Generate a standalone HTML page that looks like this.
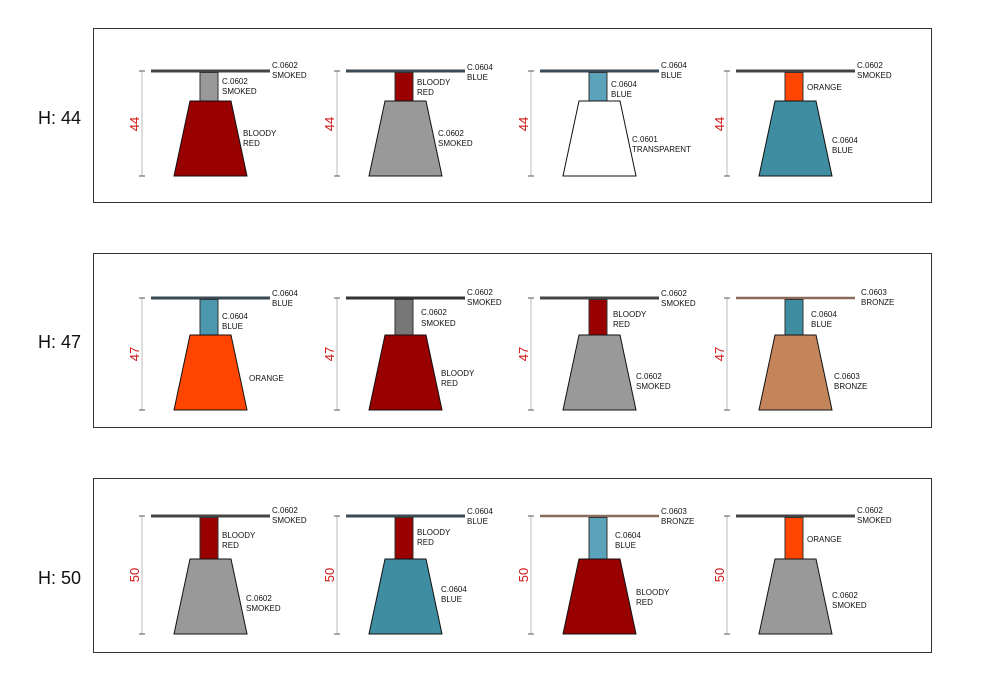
<!DOCTYPE html>
<html><head><meta charset="utf-8"><style>
html,body{margin:0;padding:0;background:#fff;width:1000px;height:700px;overflow:hidden}
svg{display:block}
text{font-family:"Liberation Sans",sans-serif;font-size:8px;fill:#111}
.d{font-size:13px;fill:#d01818;text-anchor:middle}
.h{font-size:18px;fill:#111}
</style></head><body>
<svg width="1000" height="700" viewBox="0 0 1000 700" xmlns="http://www.w3.org/2000/svg">
<rect x="93.5" y="28.5" width="838" height="174" fill="none" stroke="#333"/>
<rect x="93.5" y="253.5" width="838" height="174" fill="none" stroke="#333"/>
<rect x="93.5" y="478.5" width="838" height="174" fill="none" stroke="#333"/>
<text class="h" x="38" y="124">H: 44</text>
<text class="h" x="38" y="348">H: 47</text>
<text class="h" x="38" y="584">H: 50</text>

<!-- ROW 1 (h=30, H=105) -->
<g transform="translate(0,71)">
<line x1="142" y1="0" x2="142" y2="105" stroke="#bbb"/><line x1="139" y1="0" x2="145" y2="0" stroke="#555"/><line x1="139" y1="105" x2="145" y2="105" stroke="#555"/>
<line x1="151" y1="0" x2="270" y2="0" stroke="#444" stroke-width="3"/>
<rect x="200" y="1.5" width="18" height="28.5" fill="#999" stroke="#333"/>
<polygon points="190,30 231,30 247,105 174,105" fill="#990000" stroke="#111"/>
<text class="d" transform="translate(139,53) rotate(-90)">44</text>
<text x="272" y="-3">C.0602</text><text x="272" y="7">SMOKED</text>
<text x="222" y="13">C.0602</text><text x="222" y="23">SMOKED</text>
<text x="243" y="65">BLOODY</text><text x="243" y="75">RED</text>
</g>
<g transform="translate(195,71)">
<line x1="142" y1="0" x2="142" y2="105" stroke="#bbb"/><line x1="139" y1="0" x2="145" y2="0" stroke="#555"/><line x1="139" y1="105" x2="145" y2="105" stroke="#555"/>
<line x1="151" y1="0" x2="270" y2="0" stroke="#3a4a55" stroke-width="3"/>
<rect x="200" y="1.5" width="18" height="28.5" fill="#990000" stroke="#333"/>
<polygon points="190,30 231,30 247,105 174,105" fill="#999" stroke="#111"/>
<text class="d" transform="translate(139,53) rotate(-90)">44</text>
<text x="272" y="-1">C.0604</text><text x="272" y="9">BLUE</text>
<text x="222" y="14">BLOODY</text><text x="222" y="24">RED</text>
<text x="243" y="65">C.0602</text><text x="243" y="75">SMOKED</text>
</g>
<g transform="translate(389,71)">
<line x1="142" y1="0" x2="142" y2="105" stroke="#bbb"/><line x1="139" y1="0" x2="145" y2="0" stroke="#555"/><line x1="139" y1="105" x2="145" y2="105" stroke="#555"/>
<line x1="151" y1="0" x2="270" y2="0" stroke="#3a4a55" stroke-width="3"/>
<rect x="200" y="1.5" width="18" height="28.5" fill="#5aa3bb" stroke="#333"/>
<polygon points="190,30 231,30 247,105 174,105" fill="#fff" stroke="#111"/>
<text class="d" transform="translate(139,53) rotate(-90)">44</text>
<text x="272" y="-3">C.0604</text><text x="272" y="7">BLUE</text>
<text x="222" y="16">C.0604</text><text x="222" y="26">BLUE</text>
<text x="243" y="71">C.0601</text><text x="243" y="81">TRANSPARENT</text>
</g>
<g transform="translate(585,71)">
<line x1="142" y1="0" x2="142" y2="105" stroke="#bbb"/><line x1="139" y1="0" x2="145" y2="0" stroke="#555"/><line x1="139" y1="105" x2="145" y2="105" stroke="#555"/>
<line x1="151" y1="0" x2="270" y2="0" stroke="#444" stroke-width="3"/>
<rect x="200" y="1.5" width="18" height="28.5" fill="#ff4500" stroke="#333"/>
<polygon points="190,30 231,30 247,105 174,105" fill="#3f8da1" stroke="#111"/>
<text class="d" transform="translate(139,53) rotate(-90)">44</text>
<text x="272" y="-3">C.0602</text><text x="272" y="7">SMOKED</text>
<text x="222" y="19">ORANGE</text>
<text x="247" y="72">C.0604</text><text x="247" y="82">BLUE</text>
</g>

<!-- ROW 2 (h=37, H=112) -->
<g transform="translate(0,298)">
<line x1="142" y1="0" x2="142" y2="112" stroke="#bbb"/><line x1="139" y1="0" x2="145" y2="0" stroke="#555"/><line x1="139" y1="112" x2="145" y2="112" stroke="#555"/>
<line x1="151" y1="0" x2="270" y2="0" stroke="#3a4a55" stroke-width="3"/>
<rect x="200" y="1.5" width="18" height="35.5" fill="#4a97ae" stroke="#333"/>
<polygon points="190,37 231,37 247,112 174,112" fill="#ff4500" stroke="#111"/>
<text class="d" transform="translate(139,56) rotate(-90)">47</text>
<text x="272" y="-2">C.0604</text><text x="272" y="8">BLUE</text>
<text x="222" y="21">C.0604</text><text x="222" y="31">BLUE</text>
<text x="249" y="83">ORANGE</text>
</g>
<g transform="translate(195,298)">
<line x1="142" y1="0" x2="142" y2="112" stroke="#bbb"/><line x1="139" y1="0" x2="145" y2="0" stroke="#555"/><line x1="139" y1="112" x2="145" y2="112" stroke="#555"/>
<line x1="151" y1="0" x2="270" y2="0" stroke="#333" stroke-width="3"/>
<rect x="200" y="1.5" width="18" height="35.5" fill="#777" stroke="#333"/>
<polygon points="190,37 231,37 247,112 174,112" fill="#990000" stroke="#111"/>
<text class="d" transform="translate(139,56) rotate(-90)">47</text>
<text x="272" y="-3">C.0602</text><text x="272" y="7">SMOKED</text>
<text x="226" y="17">C.0602</text><text x="226" y="28">SMOKED</text>
<text x="246" y="78">BLOODY</text><text x="246" y="88">RED</text>
</g>
<g transform="translate(389,298)">
<line x1="142" y1="0" x2="142" y2="112" stroke="#bbb"/><line x1="139" y1="0" x2="145" y2="0" stroke="#555"/><line x1="139" y1="112" x2="145" y2="112" stroke="#555"/>
<line x1="151" y1="0" x2="270" y2="0" stroke="#444" stroke-width="3"/>
<rect x="200" y="1.5" width="18" height="35.5" fill="#990000" stroke="#333"/>
<polygon points="190,37 231,37 247,112 174,112" fill="#999" stroke="#111"/>
<text class="d" transform="translate(139,56) rotate(-90)">47</text>
<text x="272" y="-2">C.0602</text><text x="272" y="8">SMOKED</text>
<text x="224" y="19">BLOODY</text><text x="224" y="29">RED</text>
<text x="247" y="81">C.0602</text><text x="247" y="91">SMOKED</text>
</g>
<g transform="translate(585,298)">
<line x1="142" y1="0" x2="142" y2="112" stroke="#bbb"/><line x1="139" y1="0" x2="145" y2="0" stroke="#555"/><line x1="139" y1="112" x2="145" y2="112" stroke="#555"/>
<line x1="151" y1="0" x2="270" y2="0" stroke="#8a6a5a" stroke-width="2.5"/>
<rect x="200" y="1.5" width="18" height="35.5" fill="#3f8da1" stroke="#333"/>
<polygon points="190,37 231,37 247,112 174,112" fill="#c4855a" stroke="#111"/>
<text class="d" transform="translate(139,56) rotate(-90)">47</text>
<text x="276" y="-3">C.0603</text><text x="276" y="7">BRONZE</text>
<text x="226" y="19">C.0604</text><text x="226" y="29">BLUE</text>
<text x="249" y="81">C.0603</text><text x="249" y="91">BRONZE</text>
</g>

<!-- ROW 3 (h=43, H=118) -->
<g transform="translate(0,516)">
<line x1="142" y1="0" x2="142" y2="118" stroke="#bbb"/><line x1="139" y1="0" x2="145" y2="0" stroke="#555"/><line x1="139" y1="118" x2="145" y2="118" stroke="#555"/>
<line x1="151" y1="0" x2="270" y2="0" stroke="#444" stroke-width="3"/>
<rect x="200" y="1.5" width="18" height="41.5" fill="#990000" stroke="#333"/>
<polygon points="190,43 231,43 247,118 174,118" fill="#999" stroke="#111"/>
<text class="d" transform="translate(139,59) rotate(-90)">50</text>
<text x="272" y="-3">C.0602</text><text x="272" y="7">SMOKED</text>
<text x="222" y="22">BLOODY</text><text x="222" y="32">RED</text>
<text x="246" y="85">C.0602</text><text x="246" y="95">SMOKED</text>
</g>
<g transform="translate(195,516)">
<line x1="142" y1="0" x2="142" y2="118" stroke="#bbb"/><line x1="139" y1="0" x2="145" y2="0" stroke="#555"/><line x1="139" y1="118" x2="145" y2="118" stroke="#555"/>
<line x1="151" y1="0" x2="270" y2="0" stroke="#3a4a55" stroke-width="3"/>
<rect x="200" y="1.5" width="18" height="41.5" fill="#990000" stroke="#333"/>
<polygon points="190,43 231,43 247,118 174,118" fill="#3f8da1" stroke="#111"/>
<text class="d" transform="translate(139,59) rotate(-90)">50</text>
<text x="272" y="-2">C.0604</text><text x="272" y="8">BLUE</text>
<text x="222" y="19">BLOODY</text><text x="222" y="29">RED</text>
<text x="246" y="76">C.0604</text><text x="246" y="86">BLUE</text>
</g>
<g transform="translate(389,516)">
<line x1="142" y1="0" x2="142" y2="118" stroke="#bbb"/><line x1="139" y1="0" x2="145" y2="0" stroke="#555"/><line x1="139" y1="118" x2="145" y2="118" stroke="#555"/>
<line x1="151" y1="0" x2="270" y2="0" stroke="#8a6a5a" stroke-width="2.5"/>
<rect x="200" y="1.5" width="18" height="41.5" fill="#5aa3bb" stroke="#333"/>
<polygon points="190,43 231,43 247,118 174,118" fill="#990000" stroke="#111"/>
<text class="d" transform="translate(139,59) rotate(-90)">50</text>
<text x="272" y="-2">C.0603</text><text x="272" y="8">BRONZE</text>
<text x="226" y="22">C.0604</text><text x="226" y="32">BLUE</text>
<text x="247" y="79">BLOODY</text><text x="247" y="89">RED</text>
</g>
<g transform="translate(585,516)">
<line x1="142" y1="0" x2="142" y2="118" stroke="#bbb"/><line x1="139" y1="0" x2="145" y2="0" stroke="#555"/><line x1="139" y1="118" x2="145" y2="118" stroke="#555"/>
<line x1="151" y1="0" x2="270" y2="0" stroke="#444" stroke-width="3"/>
<rect x="200" y="1.5" width="18" height="41.5" fill="#ff4500" stroke="#333"/>
<polygon points="190,43 231,43 247,118 174,118" fill="#999" stroke="#111"/>
<text class="d" transform="translate(139,59) rotate(-90)">50</text>
<text x="272" y="-3">C.0602</text><text x="272" y="7">SMOKED</text>
<text x="222" y="26">ORANGE</text>
<text x="247" y="82">C.0602</text><text x="247" y="92">SMOKED</text>
</g>
</svg>
</body></html>
